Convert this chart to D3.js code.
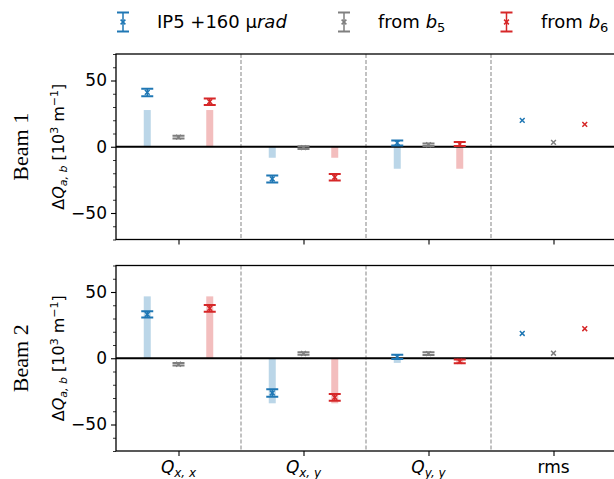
<!DOCTYPE html>
<html>
<head>
<meta charset="utf-8">
<script src="https://cdn.jsdelivr.net/npm/d3@7/dist/d3.min.js"></script>
<style>
  body { margin: 0; background: #fff; }
  svg { display: block; }
  text { font-family: "DejaVu Sans", sans-serif; fill: #000; }
</style>
</head>
<body>
<div id="chart"></div>
<script>
// Categories (x tick labels), main symbol + subscript
var categories = [["Q", "x, x"], ["Q", "x, y"], ["Q", "y, y"], ["rms", null]];
// legend: plain part, italic part, subscript
var seriesNames = [["IP5 +160 \u03bc", "rad", null], ["from ", "b", "5"], ["from ", "b", "6"]];
var beamNames = ["Beam 1", "Beam 2"];
var yTicks = [-50, 0, 50];

// Beam 1 values [10^3 m^-1]
var beam1Ip5 = [41, -24.3, 2.9, 19.9];
var beam1Ip5Err = [2.8, 2.6, 1.9, null];
var beam1B5 = [7.3, -0.7, 1.5, 3.3];
var beam1B5Err = [1, 1, 1, null];
var beam1B6 = [34, -23, 2, 16.9];
var beam1B6Err = [2.4, 2.5, 1.5, null];
var beam1Bars = [27.7, -8.3, -16.6];

// Beam 2 values
var beam2Ip5 = [33.1, -26.2, 1, 18.7];
var beam2Ip5Err = [2.3, 2.8, 1.6, null];
var beam2B5 = [-4.5, 3.6, 3.5, 3.8];
var beam2B5Err = [1, 1, 1, null];
var beam2B6 = [37.6, -29.5, -2.4, 22.3];
var beam2B6Err = [2.5, 2.5, 1.4, null];
var beam2Bars = [46.7, -34, -3.5];

var colors = ["#1f77b4", "#7f7f7f", "#d62728"];
var barColors = ["#bbd6e8", null, "#f3bebe"];
var offsets = [-0.25, 0, 0.25];

var W = 614, H = 479;
var svg = d3.select("#chart").append("svg").attr("width", W).attr("height", H);

var x = d3.scaleLinear().domain([-0.5, 3.5]).range([116, 616]);

var panels = [
    { top: 54, bottom: 239.5, vals: [beam1Ip5, beam1B5, beam1B6], errs: [beam1Ip5Err, beam1B5Err, beam1B6Err], bars: beam1Bars, name: beamNames[0], labels: false },
    { top: 265.5, bottom: 451, vals: [beam2Ip5, beam2B5, beam2B6], errs: [beam2Ip5Err, beam2B5Err, beam2B6Err], bars: beam2Bars, name: beamNames[1], labels: true }
];

function drawX(g, cx, cy, r, col) {
    g.append("path")
        .attr("d", "M" + (cx - r) + "," + (cy - r) + "L" + (cx + r) + "," + (cy + r) +
                   "M" + (cx - r) + "," + (cy + r) + "L" + (cx + r) + "," + (cy - r))
        .attr("stroke", col).attr("stroke-width", 1.5).attr("fill", "none");
}

function drawErr(g, cx, y1, y2, col, cap) {
    g.append("line").attr("x1", cx).attr("x2", cx).attr("y1", y1).attr("y2", y2)
        .attr("stroke", col).attr("stroke-width", 1.5);
    [y1, y2].forEach(function (yy) {
        g.append("line").attr("x1", cx - cap).attr("x2", cx + cap).attr("y1", yy).attr("y2", yy)
            .attr("stroke", col).attr("stroke-width", 2);
    });
}

panels.forEach(function (p) {
    var y = d3.scaleLinear().domain([-70, 70]).range([p.bottom, p.top]);
    var g = svg.append("g");

    // clip inside axes
    var clipId = "clip" + p.top;
    svg.append("clipPath").attr("id", clipId).append("rect")
        .attr("x", 116).attr("y", p.top).attr("width", 500).attr("height", p.bottom - p.top);
    var plot = g.append("g").attr("clip-path", "url(#" + clipId + ")");

    // separators between categories
    [0.5, 1.5, 2.5].forEach(function (s) {
        plot.append("line").attr("x1", x(s)).attr("x2", x(s)).attr("y1", p.top).attr("y2", p.bottom)
            .attr("stroke", "#999").attr("stroke-width", 1.2).attr("stroke-dasharray", "4,2");
    });

    // shaded bars, same value at the IP5 and b6 positions
    [0, 2].forEach(function (si) {
        p.bars.forEach(function (v, i) {
            var bw = x(0.028) - x(-0.028);
            plot.append("rect")
                .attr("x", x(i + offsets[si]) - bw / 2)
                .attr("y", Math.min(y(v), y(0)))
                .attr("width", bw)
                .attr("height", Math.abs(y(v) - y(0)))
                .attr("fill", barColors[si]);
        });
    });

    // zero line
    plot.append("line").attr("x1", 116).attr("x2", 616).attr("y1", y(0)).attr("y2", y(0))
        .attr("stroke", "#000").attr("stroke-width", 2);

    // error bars and markers
    p.vals.forEach(function (vals, si) {
        vals.forEach(function (v, i) {
            var cx = x(i + offsets[si]);
            var e = p.errs[si][i];
            if (e !== null) {
                drawErr(plot, cx, y(v + e), y(v - e), colors[si], 6);
            }
            drawX(plot, cx, y(v), 2.4, colors[si]);
        });
    });

    // y axis
    var yAxis = d3.axisLeft(y).tickValues(yTicks).tickSize(5).tickPadding(4)
        .tickFormat(function (d) { return d < 0 ? "\u2212" + Math.abs(d) : d; });
    var ya = g.append("g").attr("transform", "translate(116,0)").call(yAxis);
    ya.select(".domain").remove();
    ya.selectAll("text").style("font-size", "17px").style("font-family", "DejaVu Sans");
    ya.selectAll("line").attr("stroke-width", 1.1);
    var minor = d3.range(-70, 71, 10).filter(function (d) { return yTicks.indexOf(d) < 0; });
    g.append("g").attr("transform", "translate(116,0)")
        .call(d3.axisLeft(y).tickValues(minor).tickSize(3).tickFormat(""))
        .call(function (s) { s.select(".domain").remove(); s.selectAll("line").attr("stroke-width", 0.8); });

    // x axis ticks
    var xa = g.append("g").attr("transform", "translate(0," + p.bottom + ")")
        .call(d3.axisBottom(x).tickValues([0, 1, 2, 3]).tickSize(5).tickFormat(""));
    xa.select(".domain").remove();
    xa.selectAll("line").attr("stroke-width", 1.1);

    if (p.labels) {
        categories.forEach(function (c, i) {
            var t = g.append("text").attr("x", x(i)).attr("y", p.bottom + 22)
                .attr("text-anchor", "middle").style("font-size", "17px");
            if (c[1] === null) {
                t.text(c[0]);
            } else {
                t.append("tspan").style("font-style", "italic").text(c[0]);
                t.append("tspan").style("font-style", "italic").style("font-size", "12px")
                    .attr("dy", 3.5).text(c[1]);
            }
        });
    }

    // spines (right spine falls outside the image)
    g.append("rect").attr("x", 116).attr("y", p.top).attr("width", 500).attr("height", p.bottom - p.top)
        .attr("fill", "none").attr("stroke", "#000").attr("stroke-width", 1.3);

    // y labels
    var cy = (p.top + p.bottom) / 2;
    g.append("text").attr("transform", "translate(28," + cy + ") rotate(-90)")
        .attr("text-anchor", "middle")
        .style("font-family", "'Liberation Serif', serif").style("font-size", "22px")
        .text(p.name);
    var yl = g.append("text").attr("transform", "translate(64," + cy + ") rotate(-90)")
        .attr("text-anchor", "middle").style("font-size", "16px");
    yl.append("tspan").text("\u0394");
    yl.append("tspan").style("font-style", "italic").text("Q");
    yl.append("tspan").style("font-style", "italic").style("font-size", "11px").attr("dy", 3).text("a, b");
    yl.append("tspan").attr("dy", -3).text(" [10");
    yl.append("tspan").style("font-size", "11px").attr("dy", -6).text("3");
    yl.append("tspan").attr("dy", 6).text(" m");
    yl.append("tspan").style("font-size", "11px").attr("dy", -6).text("\u22121");
    yl.append("tspan").attr("dy", 6).text("]");
});

// legend
var legX = [123, 344, 506.5];
var legTextX = [157, 378, 541];
seriesNames.forEach(function (n, i) {
    var lg = svg.append("g");
    drawErr(lg, legX[i], 12.5, 31.5, colors[i], 6);
    drawX(lg, legX[i], 22, 2.4, colors[i]);
    var t = lg.append("text").attr("x", legTextX[i]).attr("y", 28).style("font-size", "18px");
    t.append("tspan").text(n[0]);
    t.append("tspan").style("font-style", "italic").text(n[1]);
    if (n[2] !== null) {
        t.append("tspan").style("font-size", "13px").attr("dy", 4).text(n[2]);
    }
});
</script>
</body>
</html>
